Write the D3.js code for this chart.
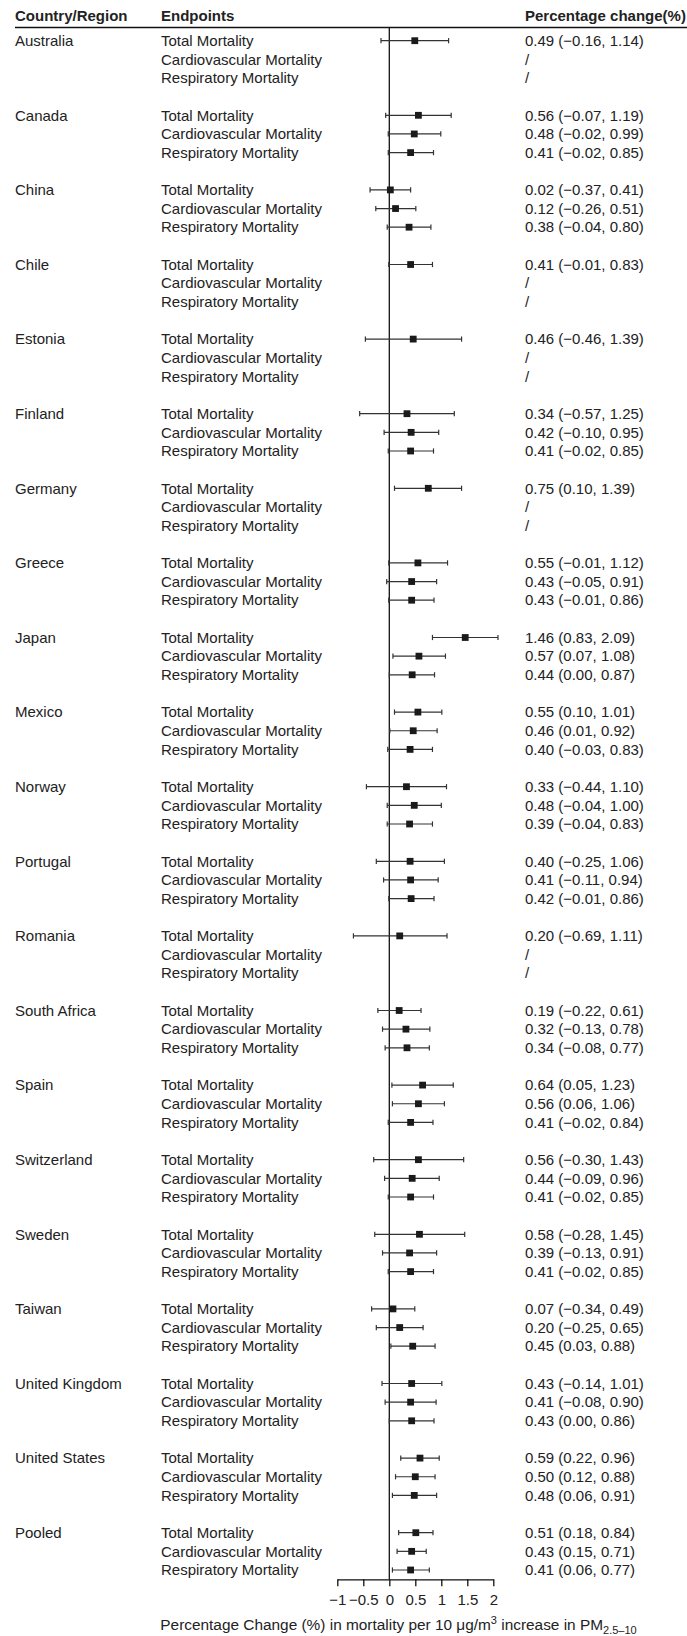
<!DOCTYPE html>
<html>
<head>
<meta charset="utf-8">
<script src="https://cdn.jsdelivr.net/npm/d3@7"></script>
<style>
  body { margin: 0; background: #fff; }
  svg text { font-family: "Liberation Sans", Arial, Helvetica, sans-serif; fill: #222; }
</style>
</head>
<body>
<div id="chart"></div>
<script>
const countries = ['Australia', 'Canada', 'China', 'Chile', 'Estonia', 'Finland', 'Germany', 'Greece',
  'Japan', 'Mexico', 'Norway', 'Portugal', 'Romania', 'South Africa', 'Spain', 'Switzerland',
  'Sweden', 'Taiwan', 'United Kingdom', 'United States', 'Pooled'];

const endpoints = ['Total Mortality', 'Cardiovascular Mortality', 'Respiratory Mortality'];

// [estimate, lower, upper], null when not available
const totalMortality = [
  [0.49, -0.16, 1.14], [0.56, -0.07, 1.19], [0.02, -0.37, 0.41], [0.41, -0.01, 0.83],
  [0.46, -0.46, 1.39], [0.34, -0.57, 1.25], [0.75, 0.10, 1.39], [0.55, -0.01, 1.12],
  [1.46, 0.83, 2.09], [0.55, 0.10, 1.01], [0.33, -0.44, 1.10], [0.40, -0.25, 1.06],
  [0.20, -0.69, 1.11], [0.19, -0.22, 0.61], [0.64, 0.05, 1.23], [0.56, -0.30, 1.43],
  [0.58, -0.28, 1.45], [0.07, -0.34, 0.49], [0.43, -0.14, 1.01], [0.59, 0.22, 0.96],
  [0.51, 0.18, 0.84]
];

const cardioMortality = [
  null, [0.48, -0.02, 0.99], [0.12, -0.26, 0.51], null,
  null, [0.42, -0.10, 0.95], null, [0.43, -0.05, 0.91],
  [0.57, 0.07, 1.08], [0.46, 0.01, 0.92], [0.48, -0.04, 1.00], [0.41, -0.11, 0.94],
  null, [0.32, -0.13, 0.78], [0.56, 0.06, 1.06], [0.44, -0.09, 0.96],
  [0.39, -0.13, 0.91], [0.20, -0.25, 0.65], [0.41, -0.08, 0.90], [0.50, 0.12, 0.88],
  [0.43, 0.15, 0.71]
];

const respMortality = [
  null, [0.41, -0.02, 0.85], [0.38, -0.04, 0.80], null,
  null, [0.41, -0.02, 0.85], null, [0.43, -0.01, 0.86],
  [0.44, 0.00, 0.87], [0.40, -0.03, 0.83], [0.39, -0.04, 0.83], [0.42, -0.01, 0.86],
  null, [0.34, -0.08, 0.77], [0.41, -0.02, 0.84], [0.41, -0.02, 0.85],
  [0.41, -0.02, 0.85], [0.45, 0.03, 0.88], [0.43, 0.00, 0.86], [0.48, 0.06, 0.91],
  [0.41, 0.06, 0.77]
];

const xTicks = [-1, -0.5, 0, 0.5, 1, 1.5, 2];

const width = 687;
const height = 1636;
const series = [totalMortality, cardioMortality, respMortality];

// one row per endpoint, a blank row between countries
const rows = [];
countries.forEach((c, g) => {
  endpoints.forEach((e, j) => {
    rows.push({ country: j === 0 ? c : '', endpoint: e, idx: g * 4 + j, val: series[j][g] });
  });
});

const nRows = (countries.length - 1) * 4 + 3;
const y = d3.scaleLinear().domain([0, nRows - 1]).range([40.7, 1570]);
const x = d3.scaleLinear().domain([-1, 2]).range([337.3, 493.3]);
const fmt = d3.format('.2f');

const svg = d3.select('#chart').append('svg')
  .attr('width', width)
  .attr('height', height);

const colCountry = 15;
const colEndpoint = 161;
const colValue = 525;
const headerY = 20.5;
const lineY = 27.5;
const axisY = 1579.3;

// headers
const headers = [['Country/Region', colCountry], ['Endpoints', colEndpoint], ['Percentage change(%)', colValue]];
svg.selectAll('text.header')
  .data(headers)
  .enter()
  .append('text')
  .attr('class', 'header')
  .attr('x', d => d[1])
  .attr('y', headerY)
  .attr('font-size', '15px')
  .attr('font-weight', 'bold')
  .text(d => d[0]);

svg.append('line')
  .attr('x1', colCountry).attr('x2', width)
  .attr('y1', lineY).attr('y2', lineY)
  .attr('stroke', '#111').attr('stroke-width', 1.3);

// zero line
svg.append('line')
  .attr('x1', x(0)).attr('x2', x(0))
  .attr('y1', lineY).attr('y2', axisY)
  .attr('stroke', '#111').attr('stroke-width', 1.3);

const row = svg.selectAll('g.row')
  .data(rows)
  .enter()
  .append('g')
  .attr('class', 'row')
  .attr('transform', d => `translate(0,${y(d.idx)})`);

row.append('text')
  .attr('x', colCountry)
  .attr('dy', '0.35em')
  .attr('font-size', '15px')
  .text(d => d.country);

row.append('text')
  .attr('x', colEndpoint)
  .attr('dy', '0.35em')
  .attr('font-size', '15px')
  .text(d => d.endpoint);

row.append('text')
  .attr('x', colValue)
  .attr('dy', '0.35em')
  .attr('font-size', '15px')
  .text(d => d.val ? `${fmt(d.val[0])} (${fmt(d.val[1])}, ${fmt(d.val[2])})` : '/');

// error bars
const est = row.filter(d => d.val);
est.append('line')
  .attr('x1', d => x(d.val[1])).attr('x2', d => x(d.val[2]))
  .attr('stroke', '#333').attr('stroke-width', 1.2);
est.append('line')
  .attr('x1', d => x(d.val[1])).attr('x2', d => x(d.val[1]))
  .attr('y1', -2.6).attr('y2', 2.6)
  .attr('stroke', '#333').attr('stroke-width', 1.2);
est.append('line')
  .attr('x1', d => x(d.val[2])).attr('x2', d => x(d.val[2]))
  .attr('y1', -2.6).attr('y2', 2.6)
  .attr('stroke', '#333').attr('stroke-width', 1.2);
est.append('rect')
  .attr('x', d => x(d.val[0]) - 3.4)
  .attr('y', -3.4)
  .attr('width', 6.8).attr('height', 6.8)
  .attr('fill', '#1a1a1a');

// x axis
const axis = svg.append('g')
  .attr('transform', `translate(0,${axisY})`)
  .call(d3.axisBottom(x).tickValues(xTicks).tickSize(7).tickSizeOuter(0).tickPadding(8)
    .tickFormat(d3.format('~g')));
axis.select('.domain').attr('stroke', '#111').attr('stroke-width', 1.3);
axis.selectAll('.tick line').attr('stroke', '#111').attr('stroke-width', 1.3);
axis.selectAll('.tick text')
  .attr('font-size', '15px')
  .attr('font-family', '"Liberation Sans", Arial, sans-serif')
  .attr('fill', '#222');

// axis title
const title = svg.append('text')
  .attr('x', 398.5)
  .attr('y', 1630)
  .attr('text-anchor', 'middle')
  .attr('font-size', '15.4px');
title.append('tspan').text('Percentage Change (%) in mortality per 10 \u03bcg/m');
title.append('tspan').attr('font-size', '11px').attr('dy', -6).text('3');
title.append('tspan').attr('dy', 6).text(' increase in PM');
title.append('tspan').attr('font-size', '11px').attr('dy', 4).text('2.5\u201310');
</script>
</body>
</html>
